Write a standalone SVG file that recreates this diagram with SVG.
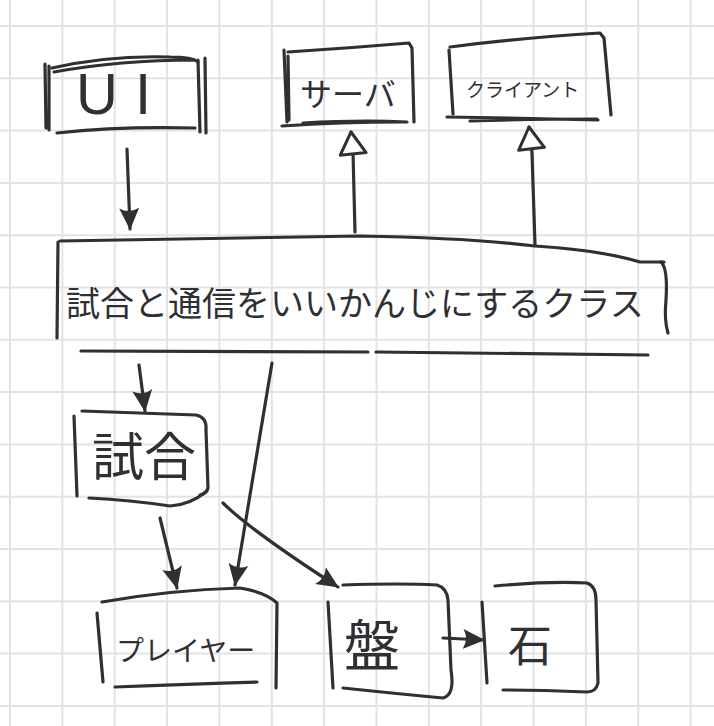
<svg xmlns="http://www.w3.org/2000/svg" width="714" height="726" viewBox="0 0 714 726">
<style>
.g{stroke:#e3e3e3;stroke-width:2}
.s{fill:none;stroke:#2f3034;stroke-width:3.2;stroke-linecap:round;stroke-linejoin:round}
.t{font-family:"Noto Sans CJK JP","Noto Sans",sans-serif;fill:#2f3034;text-anchor:start}
.l{font-family:"Liberation Sans",sans-serif;fill:#2f3034}
</style>
<defs>
<marker id="fa" viewBox="0 0 22 22" refX="21" refY="11" markerWidth="22" markerHeight="22" orient="auto" markerUnits="userSpaceOnUse">
<path d="M0,1 L22,11 L0,21 Q6,11 0,1 Z" fill="#2f3034"/>
</marker>
<marker id="ha" viewBox="-3 -3 30 32" refX="22" refY="13" markerWidth="30" markerHeight="32" orient="auto" markerUnits="userSpaceOnUse">
<path d="M0,0 L22,13 L0,26 Z" fill="#fff" stroke="#2f3034" stroke-width="3" stroke-linejoin="round"/>
</marker>
</defs>
<rect width="714" height="726" fill="#fff"/>
<g id="grid">
<path class="g" d="M10,0V726M62.4,0V726M114.7,0V726M167,0V726M219.4,0V726M271.8,0V726M324.1,0V726M376.5,0V726M428.8,0V726M481.2,0V726M533.5,0V726M585.9,0V726M638.2,0V726M690.6,0V726"/>
<path class="g" d="M0,26H714M0,78.3H714M0,130.6H714M0,182.9H714M0,235.2H714M0,287.5H714M0,339.8H714M0,392.1H714M0,444.4H714M0,496.7H714M0,549H714M0,601.3H714M0,653.6H714M0,705.9H714"/>
</g>
<g id="ui">
<path class="s" d="M52,68 Q110,55 170,57 Q192,57 198,62 M54,72 Q120,60 195,60"/>
<path class="s" d="M45,64 L46,128 M49,66 L49,130"/>
<path class="s" d="M198,60 L200,132 M205,58 L206,133"/>
<path class="s" d="M57,133 Q120,126 195,128"/>
<text class="l" x="76" y="114" font-size="58" textLength="75" lengthAdjust="spacing">UI</text>
</g>
<g id="server">
<path class="s" d="M284,50 L287,122 M288,56 L289,120"/>
<path class="s" d="M288,52 Q350,48 409,43 L412,48 L414,122"/>
<path class="s" d="M282,126 Q340,122 403,122 M303,123 Q360,120 407,122"/>
<text class="t" x="300" y="106" font-size="32">サーバ</text>
</g>
<g id="client">
<path class="s" d="M450,47 Q520,38 600,33 L604,38 L611,115"/>
<path class="s" d="M449,50 L453,114"/>
<path class="s" d="M447,117 Q520,118 598,120 M470,121 Q530,119 597,119"/>
<text class="t" x="466" y="97" font-size="19">クライアント</text>
</g>
<g id="main">
<path class="s" d="M60,241 Q200,238 360,236 Q470,238 535,246 Q600,250 640,262 L664,262"/>
<path class="s" d="M58,242 L57,338"/>
<path class="s" d="M661,262 Q668,268 666,300 Q664,320 668,333"/>
<path class="s" d="M81,351 L368,352 M376,352 L648,355"/>
<text class="t" x="66" y="316" font-size="34">試合と通信をいいかんじにするクラス</text>
</g>
<g id="match">
<path class="s" d="M82,411 Q140,413 196,415 Q207,417 206,430 L208,488 Q206,494 200,495"/>
<path class="s" d="M74,416 L77,496"/>
<path class="s" d="M89,498 Q130,500 170,506 Q190,505 207,491"/>
<text class="t" x="92" y="476" font-size="52">試合</text>
</g>
<g id="player">
<path class="s" d="M102,602 Q170,590 240,588 Q265,592 277,603 L276,688"/>
<path class="s" d="M97,613 L103,682"/>
<path class="s" d="M115,687 Q190,684 257,682"/>
<text class="t" x="116" y="661" font-size="28">プレイヤー</text>
</g>
<g id="board">
<path class="s" d="M343,585 Q400,583 437,585 Q447,588 448,600 L451,670 Q455,695 443,698 Q400,694 343,688"/>
<path class="s" d="M328,602 L333,688"/>
<text class="t" x="344" y="666" font-size="56">盤</text>
</g>
<g id="stone">
<path class="s" d="M495,586 Q550,581 587,583 Q596,586 596,600 L598,683 Q596,692 587,692 Q540,690 503,690"/>
<path class="s" d="M482,602 L487,683"/>
<text class="t" x="508" y="662" font-size="44">石</text>
</g>
<g id="connectors">
<path class="s" d="M127,149 L130,229" marker-end="url(#fa)"/>
<path class="s" d="M355,232 L353,152 L351,132" marker-end="url(#ha)"/>
<path class="s" d="M535,245 L532,153 L529,127" marker-end="url(#ha)"/>
<path class="s" d="M139,365 L145,411" marker-end="url(#fa)"/>
<path class="s" d="M272,363 L235,585" marker-end="url(#fa)"/>
<path class="s" d="M160,518 L177,588" marker-end="url(#fa)"/>
<path class="s" d="M223,503 Q250,530 338,587" marker-end="url(#fa)"/>
<path class="s" d="M443,638 L484,640" marker-end="url(#fa)"/>
</g>
</svg>
